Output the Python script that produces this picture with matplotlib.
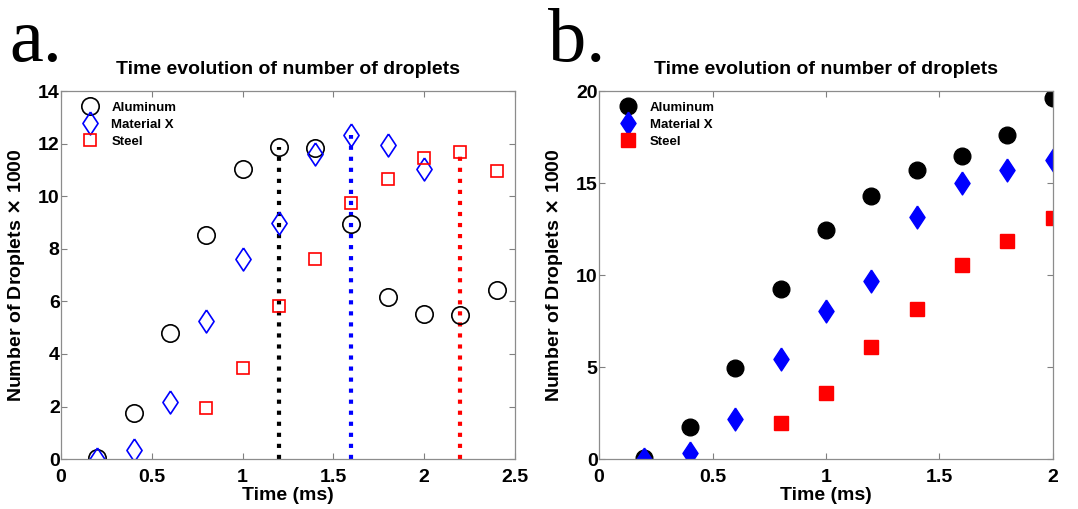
import numpy as np
import matplotlib.pyplot as plt

plt.rcParams['font.family'] = ['Liberation Sans', 'DejaVu Sans']
plt.rcParams['font.weight'] = 'bold'

# sample times (ms)
t_a = [0.2, 0.4, 0.6, 0.8, 1.0, 1.2, 1.4, 1.6, 1.8, 2.0, 2.2, 2.4]
t_mx_a = [0.2, 0.4, 0.6, 0.8, 1.0, 1.2, 1.4, 1.6, 1.8, 2.0]
t_st_a = [0.8, 1.0, 1.2, 1.4, 1.6, 1.8, 2.0, 2.2, 2.4]

# number of droplets (x1000), panel a
al_a = [0.05, 1.77, 4.78, 8.54, 11.05, 11.86, 11.84, 8.94, 6.15, 5.52, 5.47, 6.43]
mx_a = [0.0, 0.33, 2.16, 5.27, 7.63, 8.99, 11.6, 12.34, 11.94, 11.03]
st_a = [1.96, 3.47, 5.84, 7.61, 9.73, 10.65, 11.44, 11.68, 10.95]

# peak times for each material
peak_t = [1.2, 1.6, 2.2]
peak_n = [11.86, 12.34, 11.68]
peak_c = ['black', 'blue', 'red']

# panel b
t_b = [0.2, 0.4, 0.6, 0.8, 1.0, 1.2, 1.4, 1.6, 1.8, 2.0]
t_st_b = [0.8, 1.0, 1.2, 1.4, 1.6, 1.8, 2.0]
al_b = [0.05, 1.77, 4.94, 9.24, 12.44, 14.3, 15.71, 16.47, 17.6, 19.62]
mx_b = [0.0, 0.33, 2.17, 5.42, 8.03, 9.69, 13.16, 15.0, 15.73, 16.27]
st_b = [1.95, 3.58, 6.11, 8.14, 10.54, 11.83, 13.09]

# matlab-style diamond, a bit wider than 'd'
diamond = [(0, 1), (0.66, 0), (0, -1), (-0.66, 0), (0, 1)]

fig = plt.figure(figsize=(10.78, 5.09), dpi=100)
ax1 = fig.add_axes([0.0566, 0.098, 0.421, 0.723])
ax2 = fig.add_axes([0.5557, 0.098, 0.421, 0.723])


def style(ax):
    ax.tick_params(direction='in', top=True, right=True, length=4,
                   width=0.8, color='0.5', labelsize=14)
    ax.tick_params(axis='x', pad=7)
    ax.tick_params(axis='y', pad=1)
    for s in ax.spines.values():
        s.set_color('0.55')
        s.set_linewidth(0.9)
    ax.set_title('Time evolution of number of droplets', fontsize=14,
                 fontweight='bold', pad=12)
    ax.set_xlabel('Time (ms)', fontsize=14, fontweight='bold', labelpad=1)
    ax.set_ylabel(r'Number of Droplets $\times$ 1000', fontsize=14,
                  fontweight='bold', labelpad=8)
    ax.legend(loc='upper left', frameon=False, fontsize=9.5,
              handletextpad=1.0, labelspacing=0.35, borderaxespad=0.4,
              borderpad=0.4, handlelength=1.2,
              bbox_to_anchor=(0.024, 1.0))


# panel a: open markers with dotted peak lines
for x, y, c in zip(peak_t, peak_n, peak_c):
    ax1.plot([x, x], [0, y], ls=':', color=c, lw=3, zorder=1)
ax1.plot(t_a, al_a, 'o', ms=12.5, mfc='none', mec='black', mew=1.2,
         label='Aluminum')
ax1.plot(t_mx_a, mx_a, marker=diamond, ls='none', ms=16.5, mfc='none',
         mec='blue', mew=1.2, label='Material X')
ax1.plot(t_st_a, st_a, 's', ms=9, mfc='none', mec='red', mew=1.2,
         label='Steel')
ax1.set_xlim(0, 2.5)
ax1.set_ylim(0, 14)
ax1.set_xticks([0, 0.5, 1, 1.5, 2, 2.5])
ax1.set_xticklabels(['0', '0.5', '1', '1.5', '2', '2.5'])
ax1.set_yticks(range(0, 15, 2))
style(ax1)

# panel b: filled markers
ax2.plot(t_b, al_b, 'o', ms=12, color='black', label='Aluminum')
ax2.plot(t_b, mx_b, marker=diamond, ls='none', ms=16.5, color='blue',
         label='Material X')
ax2.plot(t_st_b, st_b, 's', ms=10.5, color='red', label='Steel')
ax2.set_xlim(0, 2)
ax2.set_ylim(0, 20)
ax2.set_xticks([0, 0.5, 1, 1.5, 2])
ax2.set_xticklabels(['0', '0.5', '1', '1.5', '2'])
ax2.set_yticks(range(0, 21, 5))
style(ax2)

fig.text(0.009, 0.88, 'a.', fontsize=55, family='Liberation Serif',
         fontweight='normal')
fig.text(0.508, 0.88, 'b.', fontsize=55, family='Liberation Serif',
         fontweight='normal')

fig.savefig('out.png', dpi=100)
